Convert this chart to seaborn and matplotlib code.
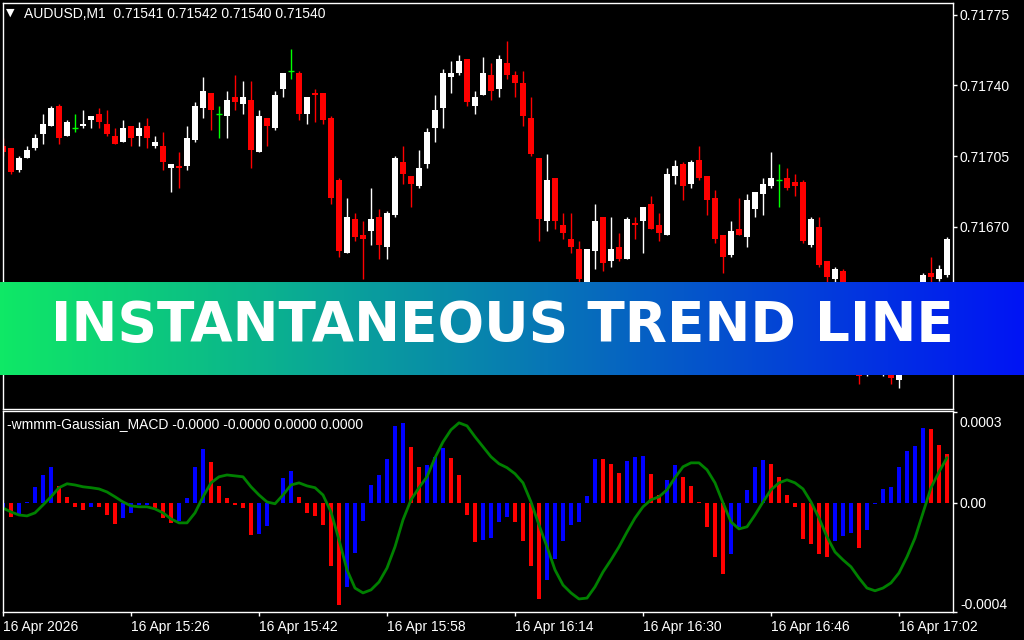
import numpy as np
import pandas as pd
import matplotlib
matplotlib.use("Agg")
import matplotlib.pyplot as plt
import seaborn as sns
from matplotlib.colors import LinearSegmentedColormap
from matplotlib.transforms import ScaledTranslation

# AUDUSD M1 candles, one per minute starting 16 Apr 15:10
open_ = [0.71710, 0.71709, 0.71698, 0.71704, 0.71709, 0.71716, 0.71720, 0.71730, 0.71715, 0.71719,
         0.71720, 0.71723, 0.71726, 0.71721, 0.71715, 0.71712, 0.71720, 0.71715, 0.71720, 0.71710,
         0.71710, 0.71699, 0.71700, 0.71700, 0.71713, 0.71729, 0.71736, 0.71726, 0.71725, 0.71734,
         0.71731, 0.71733, 0.71707, 0.71724, 0.71719, 0.71738, 0.71747, 0.71746, 0.71726, 0.71736,
         0.71736, 0.71724, 0.71693, 0.71657, 0.71674, 0.71666, 0.71668, 0.71675, 0.71660, 0.71676,
         0.71702, 0.71695, 0.71690, 0.71701, 0.71719, 0.71729, 0.71744, 0.71746, 0.71753, 0.71730,
         0.71735, 0.71745, 0.71738, 0.71751, 0.71745, 0.71741, 0.71724, 0.71704, 0.71673, 0.71694,
         0.71671, 0.71664, 0.71659, 0.71640, 0.71658, 0.71675, 0.71653, 0.71660, 0.71654, 0.71672,
         0.71673, 0.71681, 0.71671, 0.71666, 0.71695, 0.71701, 0.71691, 0.71703, 0.71695, 0.71684,
         0.71666, 0.71656, 0.71669, 0.71665, 0.71679, 0.71686, 0.71690, 0.71693, 0.71694, 0.71692,
         0.71692, 0.71661, 0.71670, 0.71653, 0.71644, 0.71648, 0.71636, 0.71612, 0.71598, 0.71608,
         0.71598, 0.71604, 0.71594, 0.71606, 0.71618, 0.71640, 0.71647, 0.71644, 0.71646]
high = [0.71714, 0.71709, 0.71705, 0.71710, 0.71716, 0.71726, 0.71730, 0.71731, 0.71723, 0.71726,
        0.71728, 0.71725, 0.71729, 0.71728, 0.71719, 0.71723, 0.71720, 0.71722, 0.71724, 0.71715,
        0.71717, 0.71701, 0.71707, 0.71720, 0.71732, 0.71744, 0.71736, 0.71730, 0.71737, 0.71745,
        0.71742, 0.71742, 0.71728, 0.71724, 0.71737, 0.71746, 0.71758, 0.71747, 0.71734, 0.71738,
        0.71736, 0.71725, 0.71694, 0.71684, 0.71677, 0.71673, 0.71689, 0.71679, 0.71678, 0.71705,
        0.71710, 0.71695, 0.71708, 0.71719, 0.71735, 0.71748, 0.71752, 0.71755, 0.71753, 0.71737,
        0.71754, 0.71751, 0.71755, 0.71762, 0.71747, 0.71747, 0.71734, 0.71704, 0.71706, 0.71694,
        0.71677, 0.71677, 0.71663, 0.71659, 0.71681, 0.71675, 0.71675, 0.71667, 0.71675, 0.71675,
        0.71680, 0.71685, 0.71677, 0.71699, 0.71703, 0.71702, 0.71703, 0.71710, 0.71695, 0.71688,
        0.71666, 0.71673, 0.71684, 0.71686, 0.71687, 0.71694, 0.71707, 0.71701, 0.71699, 0.71696,
        0.71693, 0.71675, 0.71675, 0.71653, 0.71650, 0.71649, 0.71637, 0.71614, 0.71610, 0.71610,
        0.71608, 0.71606, 0.71608, 0.71620, 0.71634, 0.71647, 0.71655, 0.71651, 0.71665]
low = [0.71705, 0.71696, 0.71697, 0.71704, 0.71708, 0.71711, 0.71720, 0.71711, 0.71715, 0.71717,
       0.71719, 0.71719, 0.71719, 0.71715, 0.71711, 0.71712, 0.71710, 0.71710, 0.71709, 0.71709,
       0.71698, 0.71687, 0.71689, 0.71698, 0.71712, 0.71724, 0.71718, 0.71714, 0.71714, 0.71728,
       0.71726, 0.71699, 0.71707, 0.71710, 0.71718, 0.71734, 0.71743, 0.71723, 0.71721, 0.71722,
       0.71721, 0.71681, 0.71655, 0.71657, 0.71663, 0.71644, 0.71661, 0.71654, 0.71654, 0.71675,
       0.71691, 0.71680, 0.71689, 0.71699, 0.71712, 0.71719, 0.71736, 0.71745, 0.71730, 0.71726,
       0.71735, 0.71733, 0.71734, 0.71743, 0.71734, 0.71720, 0.71705, 0.71663, 0.71668, 0.71669,
       0.71664, 0.71657, 0.71640, 0.71638, 0.71649, 0.71648, 0.71650, 0.71653, 0.71654, 0.71664,
       0.71657, 0.71669, 0.71663, 0.71666, 0.71691, 0.71683, 0.71689, 0.71693, 0.71676, 0.71662,
       0.71647, 0.71655, 0.71666, 0.71660, 0.71675, 0.71676, 0.71689, 0.71680, 0.71688, 0.71685,
       0.71662, 0.71660, 0.71650, 0.71640, 0.71640, 0.71632, 0.71612, 0.71592, 0.71596, 0.71597,
       0.71596, 0.71592, 0.71590, 0.71604, 0.71616, 0.71636, 0.71642, 0.71643, 0.71645]
close = [0.71707, 0.71697, 0.71704, 0.71708, 0.71714, 0.71721, 0.71729, 0.71714, 0.71722, 0.71719,
         0.71721, 0.71725, 0.71722, 0.71716, 0.71711, 0.71719, 0.71714, 0.71719, 0.71714, 0.71712,
         0.71702, 0.71701, 0.71699, 0.71714, 0.71730, 0.71737, 0.71728, 0.71726, 0.71733, 0.71732,
         0.71734, 0.71708, 0.71725, 0.71720, 0.71735, 0.71746, 0.71747, 0.71726, 0.71734, 0.71735,
         0.71723, 0.71684, 0.71658, 0.71675, 0.71665, 0.71664, 0.71674, 0.71661, 0.71677, 0.71704,
         0.71696, 0.71691, 0.71699, 0.71717, 0.71728, 0.71746, 0.71746, 0.71752, 0.71732, 0.71734,
         0.71746, 0.71737, 0.71753, 0.71745, 0.71741, 0.71725, 0.71706, 0.71674, 0.71693, 0.71673,
         0.71667, 0.71660, 0.71644, 0.71659, 0.71673, 0.71652, 0.71659, 0.71654, 0.71674, 0.71671,
         0.71680, 0.71669, 0.71667, 0.71696, 0.71700, 0.71690, 0.71702, 0.71694, 0.71683, 0.71664,
         0.71655, 0.71668, 0.71666, 0.71683, 0.71687, 0.71691, 0.71694, 0.71693, 0.71689, 0.71690,
         0.71663, 0.71674, 0.71651, 0.71645, 0.71649, 0.71635, 0.71614, 0.71596, 0.71608, 0.71598,
         0.71605, 0.71595, 0.71606, 0.71618, 0.71632, 0.71646, 0.71645, 0.71649, 0.71664]

# Gaussian MACD sub-window, values in units of 0.00001
hist = [-2.0, -4.6, -4.0, 0.3, 5.3, 9.2, 11.9, 5.6, 2.0, -1.3,
        -2.3, -1.3, -1.4, -4.0, -6.9, -5.0, -3.3, -0.7, -0.6, -1.7,
        -5.0, -6.6, -5.9, 1.6, 11.9, 17.8, 13.5, 5.6, 1.6, -0.7,
        -1.7, -10.6, -10.2, -7.6, 0.0, 8.3, 10.6, 2.0, -3.3, -4.3,
        -7.3, -20.8, -33.7, -27.7, -16.5, -5.9, 5.9, 9.2, 14.5, 25.4,
        26.4, 18.5, 11.9, 12.5, 15.2, 18.2, 14.9, 9.2, -4.0, -12.9,
        -12.2, -11.6, -6.3, -4.6, -6.3, -12.5, -20.8, -31.7, -25.4, -18.5,
        -12.5, -7.3, -6.3, 2.3, 14.5, 14.4, 12.9, 9.9, 13.9, 15.2,
        15.5, 9.6, 2.6, 7.6, 12.5, 8.6, 5.6, 0.3, -7.9, -17.8,
        -23.4, -16.8, -7.9, 4.3, 11.9, 14.2, 12.9, 8.6, 2.6, -1.3,
        -11.9, -13.5, -16.8, -17.8, -12.5, -10.9, -9.9, -14.9, -8.9, -0.3,
        4.6, 5.3, 11.9, 17.2, 18.8, 24.8, 24.4, 19.1, 16.2]
signal = [-1.7, -3.0, -4.0, -4.3, -3.3, -0.7, 2.0, 5.0, 6.3, 5.9,
          5.3, 5.0, 4.6, 3.6, 2.0, 0.3, -1.0, -1.3, -1.3, -2.0,
          -3.3, -5.3, -6.6, -6.6, -3.3, 2.0, 6.6, 8.6, 9.2, 8.9,
          8.6, 5.3, 2.6, 0.3, -0.3, 2.6, 5.9, 6.6, 5.6, 5.0,
          2.6, -3.0, -12.2, -22.1, -28.1, -29.7, -28.7, -26.1, -21.5, -14.5,
          -5.6, 1.0, 5.0, 8.6, 14.9, 20.1, 24.1, 26.4, 25.4, 21.8,
          18.5, 15.2, 12.9, 11.6, 9.6, 6.6, 0.3, -7.3, -14.5, -22.1,
          -27.1, -29.7, -31.7, -31.4, -27.7, -22.8, -18.8, -14.5, -9.6, -5.0,
          -1.3, 1.0, 2.0, 4.3, 8.3, 11.9, 13.2, 13.2, 10.9, 6.6,
          0.0, -6.3, -8.6, -7.9, -4.0, 0.3, 4.3, 6.6, 7.6, 6.6,
          4.6, 0.3, -5.0, -11.2, -16.2, -18.8, -21.1, -24.8, -28.1, -29.0,
          -28.1, -26.4, -23.1, -17.8, -11.6, -3.3, 5.0, 10.2, 14.9]

time_ticks = [0, 16, 32, 48, 64, 80, 96, 112]
time_labels = ["16 Apr 2026", "16 Apr 15:26", "16 Apr 15:42", "16 Apr 15:58",
               "16 Apr 16:14", "16 Apr 16:30", "16 Apr 16:46", "16 Apr 17:02"]
price_ticks = [0.71600, 0.71635, 0.71670, 0.71705, 0.71740, 0.71775]
macd_ticks = [-36.0, 0.0, 30.0]
macd_labels = ["-0.0004", "0.00", "0.0003"]

header = "AUDUSD,M1  0.71541 0.71542 0.71540 0.71540"
sub_header = "-wmmm-Gaussian_MACD -0.0000 -0.0000 0.0000 0.0000"
banner_text = "INSTANTANEOUS TREND LINE"

sns.set_theme(style="dark", rc={
    "axes.facecolor": "black", "figure.facecolor": "black",
    "axes.edgecolor": "white", "axes.linewidth": 1.0,
    "text.color": "white", "xtick.color": "white", "ytick.color": "white",
    "axes.grid": False,
})
plt.rcParams["font.family"] = ["Liberation Sans", "DejaVu Sans"]

W, H = 1024, 640
fig = plt.figure(figsize=(W / 100, H / 100), dpi=100, facecolor="black")
ax1 = fig.add_axes([3 / W, 231 / H, 950 / W, 406 / H])
ax2 = fig.add_axes([3 / W, 28 / H, 950 / W, 201 / H])

# ---- candles
df = pd.DataFrame({"open": open_, "high": high, "low": low, "close": close})
df["k"] = np.arange(len(df))
df["col"] = np.where(df["close"] > df["open"], "white",
                     np.where(df["close"] < df["open"], "#FF0000", "#00FF00"))
ax1.vlines(df["k"], df["low"], df["high"], colors=df["col"], lw=1)
body = df[df["close"] != df["open"]]
ax1.bar(body["k"], (body["close"] - body["open"]).abs(),
        bottom=body[["open", "close"]].min(axis=1),
        width=0.7, color=body["col"], edgecolor="none")
doji = df[df["close"] == df["open"]]
ax1.hlines(doji["open"], doji["k"] - 0.4, doji["k"] + 0.4, colors="#00FF00", lw=1)

ax1.set_xlim(0, 118.75)
ax1.set_ylim(0.715797, 0.717808)
ax1.set_xticks([])
ax1.set_yticks(price_ticks)
ax1.set_yticklabels([f"{p:.5f}" for p in price_ticks])

# ---- MACD histogram + signal
mdf = pd.DataFrame({"k": np.arange(len(hist)), "hist": hist, "signal": signal})
mdf["dir"] = np.where(mdf["hist"].diff().fillna(1) >= 0, "up", "down")
sns.barplot(data=mdf, x="k", y="hist", hue="dir", native_scale=True, dodge=False,
            palette={"up": "#0000FF", "down": "#FF0000"}, width=0.62,
            saturation=1, linewidth=0, legend=False, ax=ax2)
sns.lineplot(data=mdf, x="k", y="signal", color="#008000", lw=2, ax=ax2)
ax2.set_xlim(0, 118.75)
ax2.set_ylim(-36.0, 30.3)
ax2.set_xlabel("")
ax2.set_ylabel("")
ax2.set_xticks(time_ticks)
ax2.set_xticklabels(time_labels, ha="left")
ax2.set_yticks(macd_ticks)
ax2.set_yticklabels(macd_labels)

for ax in (ax1, ax2):
    ax.set_facecolor("black")
    for s in ax.spines.values():
        s.set_color("white")
        s.set_linewidth(1)
    ax.yaxis.tick_right()
    ax.tick_params(axis="y", right=True, left=False, labelright=True, labelleft=False,
                   direction="out", length=3, width=1, colors="white", labelsize=10, pad=2)
ax2.tick_params(axis="x", bottom=True, direction="out", length=3, width=1,
                colors="white", labelsize=10, pad=2.5)
for lab in ax2.get_xticklabels():
    lab.set_ha("left")
# top/bottom labels of the sub-window sit inside the axis range
yt = ax2.yaxis.get_major_ticks()
yt[0].label2.set_va("bottom")
yt[2].label2.set_va("top")
yt[2].label2.set_transform(yt[2].label2.get_transform()
                           + ScaledTranslation(0, -0.04, fig.dpi_scale_trans))

# ---- window titles
fig.text(6 / W, 1 - 12.5 / H, "\u25bc", fontsize=8, color="white", va="center",
         family=["DejaVu Sans"])
fig.text(24 / W, 1 - 14 / H, header, fontsize=10, color="white", va="center")
fig.text(7 / W, 1 - 424 / H, sub_header, fontsize=10, color="white", va="center")

# ---- banner
bax = fig.add_axes([0, (H - 375) / H, 1, 93 / H])
cmap = LinearSegmentedColormap.from_list(
    "banner", ["#0FE866", "#0AA39A", "#0558C9", "#0014F5"])
bax.imshow(np.linspace(0, 1, 512)[None, :], aspect="auto", cmap=cmap,
           extent=[0, 1, 0, 1])
bax.set_axis_off()
fig.text(502 / W, 1 - 326 / H, banner_text, fontsize=39.5, color="white",
         ha="center", va="center", family=["DejaVu Sans"], fontweight="bold")

fig.savefig("out.png", dpi=100, facecolor="black")
